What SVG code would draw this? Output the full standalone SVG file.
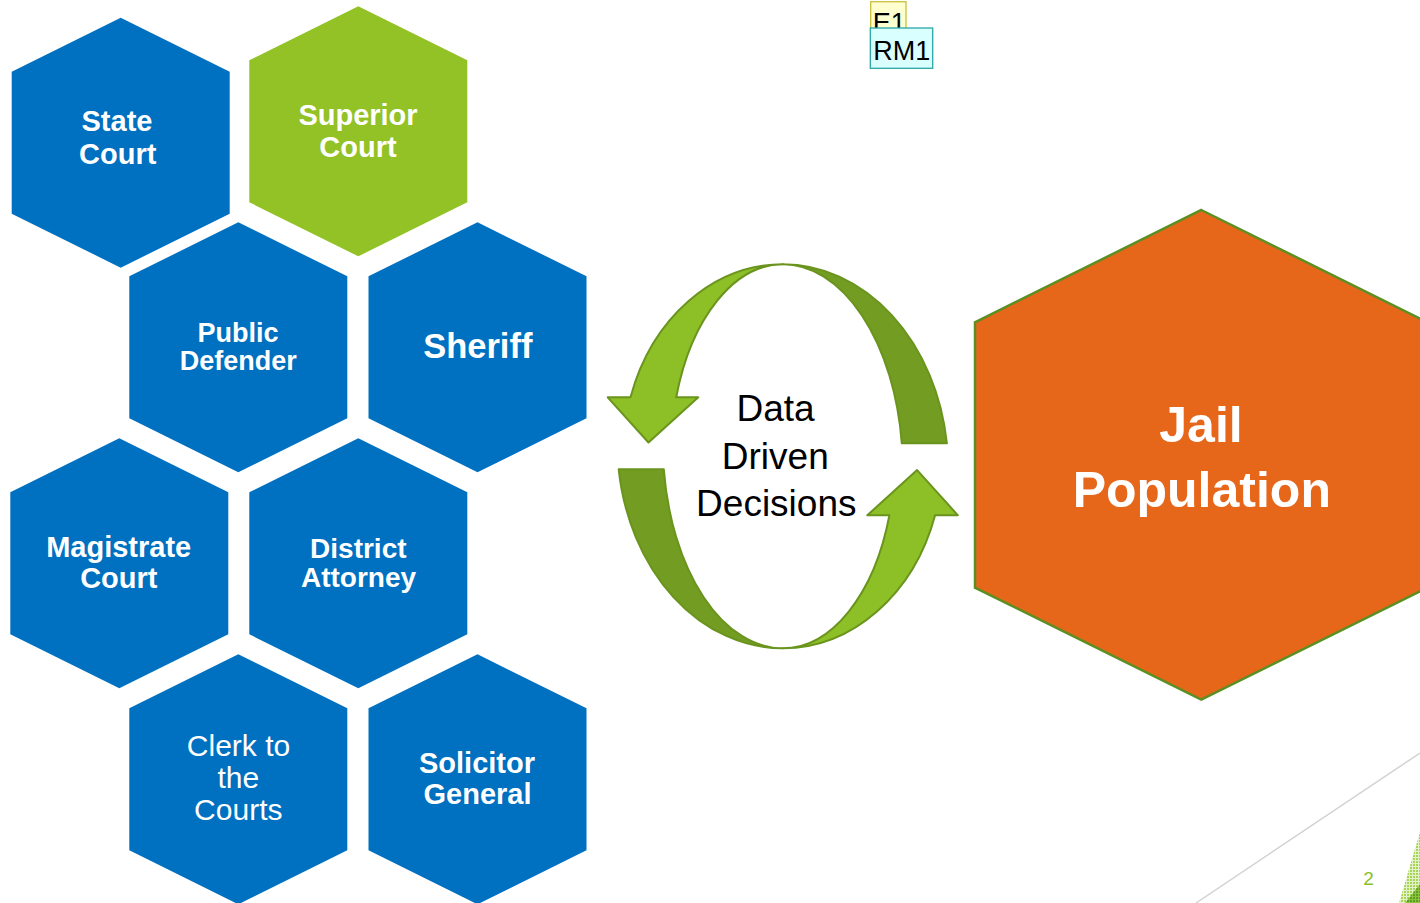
<svg xmlns="http://www.w3.org/2000/svg" width="1420" height="903" viewBox="0 0 1420 903">
<defs>
<style>
.hex-blue{fill:#0070c0;}
.hex-green{fill:#92c225;}
.lbl{font-family:"Liberation Sans",Arial,sans-serif;font-weight:bold;fill:#ffffff;text-anchor:middle;}
.lbl-reg{font-family:"Liberation Sans",Arial,sans-serif;fill:#ffffff;text-anchor:middle;}
.ddd{font-family:"Liberation Sans",Arial,sans-serif;fill:#000000;text-anchor:middle;font-size:37px;}
.band-dark{fill:#739c22;stroke:#6a941e;stroke-width:2;stroke-linejoin:round;}
.band-light{fill:#8dc026;stroke:#6a941e;stroke-width:2;stroke-linejoin:round;}
.tag{font-family:"Liberation Sans",Arial,sans-serif;fill:#000000;font-size:27px;}
</style>
<pattern id="dots" width="3" height="3" patternUnits="userSpaceOnUse">
<rect width="3" height="3" fill="#e4f2c8"/>
<rect width="2" height="2" fill="#a9d45a"/>
</pattern>
<pattern id="dots2" width="3" height="3" patternUnits="userSpaceOnUse">
<rect width="3" height="3" fill="#8cc43e"/>
<rect width="2" height="2" fill="#5a9e22"/>
</pattern>
</defs>
<rect width="1420" height="903" fill="#ffffff"/>

<!-- decoration -->
<line x1="1196" y1="903" x2="1420" y2="753" stroke="#d3d3d3" stroke-width="1.5"/>
<polygon points="1420,832 1399,903 1420,903" fill="url(#dots)"/>
<polygon points="1420,884 1405,903 1420,903" fill="url(#dots2)"/>
<text x="1368.5" y="885" font-family="Liberation Sans,Arial,sans-serif" font-size="19" fill="#8dc026" text-anchor="middle">2</text>

<g id="state-court">
<polygon class="hex-blue" points="120.7,17.7 229.7,71.7 229.7,213.7 120.7,267.7 11.7,213.7 11.7,71.7"/>
<text class="lbl" font-size="29"><tspan x="117" y="130.7">State</tspan><tspan x="117.7" y="164">Court</tspan></text>
</g>
<g id="superior-court">
<polygon class="hex-green" points="358.3,6.3 467.3,60.3 467.3,202.3 358.3,256.3 249.3,202.3 249.3,60.3"/>
<text class="lbl" font-size="29"><tspan x="358" y="125.3">Superior</tspan><tspan x="358" y="156.7">Court</tspan></text>
</g>
<g id="public-defender">
<polygon class="hex-blue" points="238.3,222.3 347.3,276.3 347.3,418.3 238.3,472.3 129.3,418.3 129.3,276.3"/>
<text class="lbl" font-size="27"><tspan x="238" y="341.7">Public</tspan><tspan x="238.3" y="370.3">Defender</tspan></text>
</g>
<g id="sheriff">
<polygon class="hex-blue" points="477.5,222.3 586.5,276.3 586.5,418.3 477.5,472.3 368.5,418.3 368.5,276.3"/>
<text class="lbl" font-size="34.5" x="477.8" y="358.3">Sheriff</text>
</g>
<g id="magistrate-court">
<polygon class="hex-blue" points="119.3,438.3 228.3,492.3 228.3,634.3 119.3,688.3 10.3,634.3 10.3,492.3"/>
<text class="lbl" font-size="29"><tspan x="118.7" y="557">Magistrate</tspan><tspan x="118.8" y="588.3">Court</tspan></text>
</g>
<g id="district-attorney">
<polygon class="hex-blue" points="358.3,438.3 467.3,492.3 467.3,634.3 358.3,688.3 249.3,634.3 249.3,492.3"/>
<text class="lbl" font-size="28"><tspan x="358.3" y="557.7">District</tspan><tspan x="358.5" y="586.7">Attorney</tspan></text>
</g>
<g id="clerk-to-the-courts">
<polygon class="hex-blue" points="238.3,654.3 347.3,708.3 347.3,850.3 238.3,904.3 129.3,850.3 129.3,708.3"/>
<text class="lbl-reg" font-size="30"><tspan x="238.5" y="756">Clerk to</tspan><tspan x="238.3" y="788.3">the</tspan><tspan x="238.3" y="820">Courts</tspan></text>
</g>
<g id="solicitor-general">
<polygon class="hex-blue" points="477.5,654.3 586.5,708.3 586.5,850.3 477.5,904.3 368.5,850.3 368.5,708.3"/>
<text class="lbl" font-size="29"><tspan x="477" y="772.7">Solicitor</tspan><tspan x="477.5" y="804">General</tspan></text>
</g>
<g id="jail-population">
<polygon points="1201.3,210 1427.6,322.3 1427.6,587.7 1201.3,699.5 975,587.7 975,322.3" fill="#e7671a" stroke="#5b8f22" stroke-width="2.5"/>
<text class="lbl" font-size="50"><tspan x="1201" y="442.3">Jail</tspan><tspan x="1201.8" y="506.7">Population</tspan></text>
</g>

<g id="connectors">
<g id="arrow-top">
<path class="band-dark" d="M782.8,264.3 A165.5,205.7 0 0 1 946.9,443.3 L901.8,443.3 A120,205.7 0 0 0 782.8,264.3 Z"/>
<path class="band-light" d="M782.8,264.3 A160,192 0 0 0 630.5,397.3 L607.7,397.3 L648.5,442.5 L698.3,397.3 L676.2,397.3 A112,192 0 0 1 782.8,264.3 Z"/>
</g>
<g id="arrow-bottom" transform="rotate(180 782.8 456.3)">
<path class="band-dark" d="M782.8,264.3 A165.5,205.7 0 0 1 946.9,443.3 L901.8,443.3 A120,205.7 0 0 0 782.8,264.3 Z"/>
<path class="band-light" d="M782.8,264.3 A160,192 0 0 0 630.5,397.3 L607.7,397.3 L648.5,442.5 L698.3,397.3 L676.2,397.3 A112,192 0 0 1 782.8,264.3 Z"/>
</g>
</g>

<g id="data-driven-decisions">
<text class="ddd"><tspan x="775.5" y="421">Data</tspan><tspan x="775.3" y="469.3">Driven</tspan><tspan x="776.3" y="515.7">Decisions</tspan></text>
</g>

<g id="tag-e1">
<rect x="870.7" y="1.7" width="35.3" height="30" fill="#ffffd0" stroke="#c8c03c" stroke-width="1.3"/>
<text class="tag" x="872.7" y="31.5">E1</text>
</g>
<g id="tag-rm1">
<rect x="870.3" y="28" width="62.4" height="40.3" fill="#d9ffff" stroke="#2aa6a6" stroke-width="1.3"/>
<text class="tag" x="873.3" y="60">RM1</text>
</g>
</svg>
